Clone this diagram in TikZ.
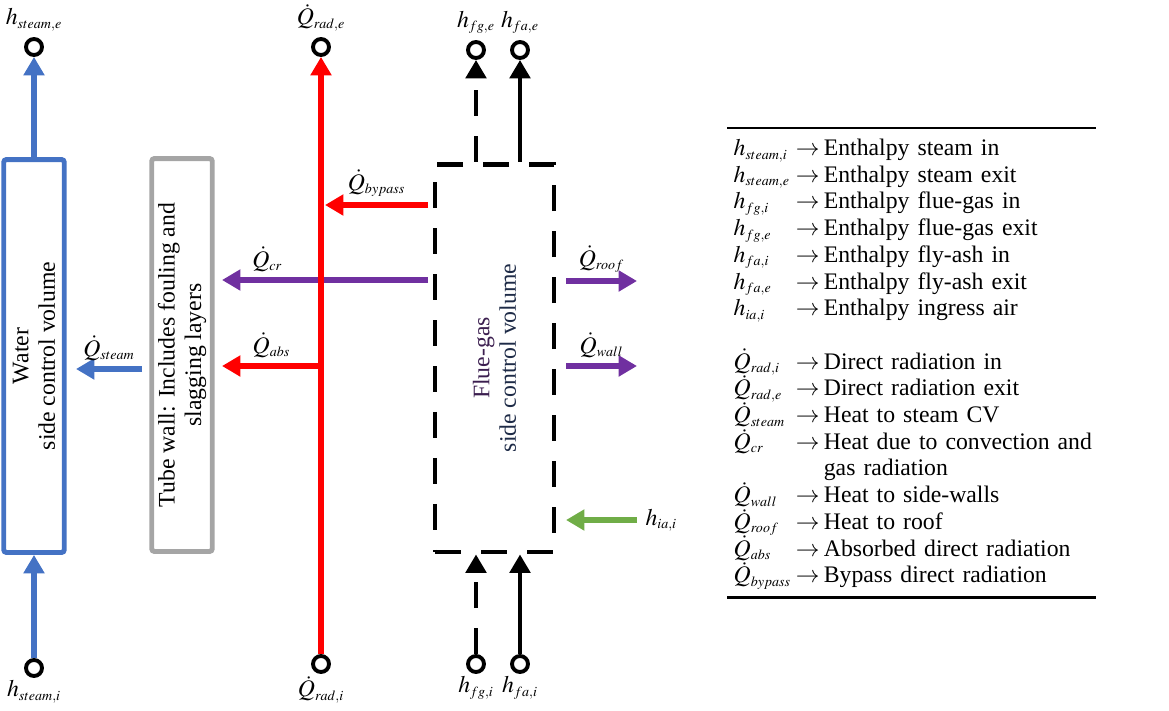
\documentclass[tikz,border=0pt]{standalone}
\usepackage{mathptmx}
\usepackage{fontspec}
\setmainfont{Liberation Serif}
\DeclareMathSizes{13.5}{13.5}{8}{6}
\usetikzlibrary{positioning, arrows.meta, matrix}
\definecolor{wblue}{HTML}{4472C4}
\definecolor{wgray}{HTML}{A5A5A5}
\definecolor{rred}{HTML}{FF0000}
\definecolor{cpurple}{HTML}{7030A0}
\definecolor{igreen}{HTML}{70AD47}
\definecolor{fgtext}{HTML}{3B1E4F}
\definecolor{sctext}{HTML}{1E2B47}

\begin{document}
\begin{tikzpicture}[x=0.02cm, y=0.02cm, font=\fontsize{13.5}{15.1}\selectfont,
    flow/.style={line width=3pt, -{Triangle[length=10.5pt,width=11.5pt]}},
    port/.style={circle, draw, line width=2.2pt, minimum size=9.1pt, inner sep=0pt},
    cv/.style={draw, line width=2.8pt, rounded corners=1.5pt, inner sep=0pt, minimum width=1.21cm, minimum height=7.86cm},
    fgline/.style={dash pattern=on 0.52cm off 0.4cm}]
\useasboundingbox (0,0) rectangle (1169,-710);

% control volumes
\node[cv, draw=wblue, label={[rotate=90, align=center]center:Water\\side control volume}] (w) at (34,-356) {};
\node[cv, draw=wgray, label={[rotate=90, align=center]center:Tube wall: Includes fouling and\\slagging layers}] (t) at (182,-355) {};
\node[cv, fgline, rounded corners=0pt, minimum width=2.38cm, minimum height=7.76cm,
    label={[rotate=90, align=center]center:{\color{fgtext}Flue-gas}\\{\color{sctext}side control volume}}] (f) at (494.5,-358) {};

% ports
\node[port, label=above:$h_{steam,e}$] (se) at (34,-47) {};
\node[port, label={[label distance=-2pt]below:$h_{steam,i}$}] (si) at (34,-668) {};
\node[port, label=above:$\dot{Q}_{rad,e}$] (re) at (321,-47) {};
\node[port, label={[label distance=-2pt]below:$\dot{Q}_{rad,i}$}] (ri) at (321,-664) {};
\node[port, label=above:$h_{fg,e}$] (ge) at (476,-50) {};
\node[port, label=above:$h_{fa,e}$] (ae) at (520,-50) {};
\node[port, label={[label distance=-2pt]below:$h_{fg,i}$}] (gi) at (476,-664) {};
\node[port, label={[label distance=-2pt]below:$h_{fa,i}$}] (ai) at (520,-664) {};

% free ends of the heat flows
\coordinate (qsa) at (142,-369);
\coordinate (qsb) at (76,-369);
\coordinate (bya) at (428,-205);
\coordinate (byb) at (325,-205);
\coordinate (cra) at (428,-280);
\coordinate (crb) at (222,-280);
\coordinate (aba) at (321,-366);
\coordinate (abb) at (222,-366);
\coordinate (rfa) at (566,-281);
\coordinate (rfb) at (637,-281);
\coordinate (wla) at (566,-366);
\coordinate (wlb) at (637,-366);
\coordinate (iaa) at (637,-520);
\coordinate (iab) at (566,-520);

\path[flow, every edge/.append style={draw=wblue}]
    (si) edge (w.south)
    (w.north) edge (se)
    (qsa) edge node[above] {$\dot{Q}_{steam}$} (qsb);
\path[flow, every edge/.append style={draw=cpurple}]
    (cra) edge node[above, pos=0.78] {$\dot{Q}_{cr}$} (crb)
    (rfa) edge node[above] {$\dot{Q}_{roof}$} (rfb)
    (wla) edge node[above] {$\dot{Q}_{wall}$} (wlb);
\path[flow, every edge/.append style={draw=rred}]
    (ri) edge (re)
    (bya) edge node[above] {$\dot{Q}_{bypass}$} (byb)
    (aba) edge node[above] {$\dot{Q}_{abs}$} (abb);
\path[flow, every edge/.append style={draw=igreen}]
    (iaa) edge node[right, pos=0] {$h_{ia,i}$} (iab);
\path[flow, line width=2.8pt]
    (ge |- f.north) edge[fgline] (ge)
    (ae |- f.north) edge (ae)
    (gi) edge[fgline] (gi |- f.south)
    (ai) edge (ai |- f.south);

% legend
\matrix (leg) [matrix of nodes, anchor=north west, inner sep=0pt, column sep=2.5pt,
    nodes={anchor=base west, inner sep=0pt, text height=10.9pt, text depth=4.3pt},
    column 3/.style={nodes={execute at begin node={\spaceskip=0.34em plus 0.1em\relax}}}] at (733,-136) {
  $h_{steam,i}$ & $\rightarrow$ & Enthalpy steam in \\
  $h_{steam,e}$ & $\rightarrow$ & Enthalpy steam exit \\
  $h_{fg,i}$ & $\rightarrow$ & Enthalpy flue-gas in \\
  $h_{fg,e}$ & $\rightarrow$ & Enthalpy flue-gas exit \\
  $h_{fa,i}$ & $\rightarrow$ & Enthalpy fly-ash in \\
  $h_{fa,e}$ & $\rightarrow$ & Enthalpy fly-ash exit \\
  $h_{ia,i}$ & $\rightarrow$ & Enthalpy ingress air \\[15.2pt]
  $\dot{Q}_{rad,i}$ & $\rightarrow$ & Direct radiation in \\
  $\dot{Q}_{rad,e}$ & $\rightarrow$ & Direct radiation exit \\
  $\dot{Q}_{steam}$ & $\rightarrow$ & Heat to steam CV \\
  $\dot{Q}_{cr}$ & $\rightarrow$ & Heat due to convection and \\
   & & gas radiation \\
  $\dot{Q}_{wall}$ & $\rightarrow$ & Heat to side-walls \\
  $\dot{Q}_{roof}$ & $\rightarrow$ & Heat to roof \\
  $\dot{Q}_{abs}$ & $\rightarrow$ & Absorbed direct radiation \\
  $\dot{Q}_{bypass}$ & $\rightarrow$ & Bypass direct radiation \\
};
\draw[line width=1.5pt] ([xshift=-3.4pt, yshift=4.5pt]leg.north west) -- ([xshift=2.3pt, yshift=4.5pt]leg.north east);
\draw[line width=1.5pt] ([xshift=-3.4pt, yshift=-3.7pt]leg.south west) -- ([xshift=2.3pt, yshift=-3.7pt]leg.south east);
\end{tikzpicture}
\end{document}
